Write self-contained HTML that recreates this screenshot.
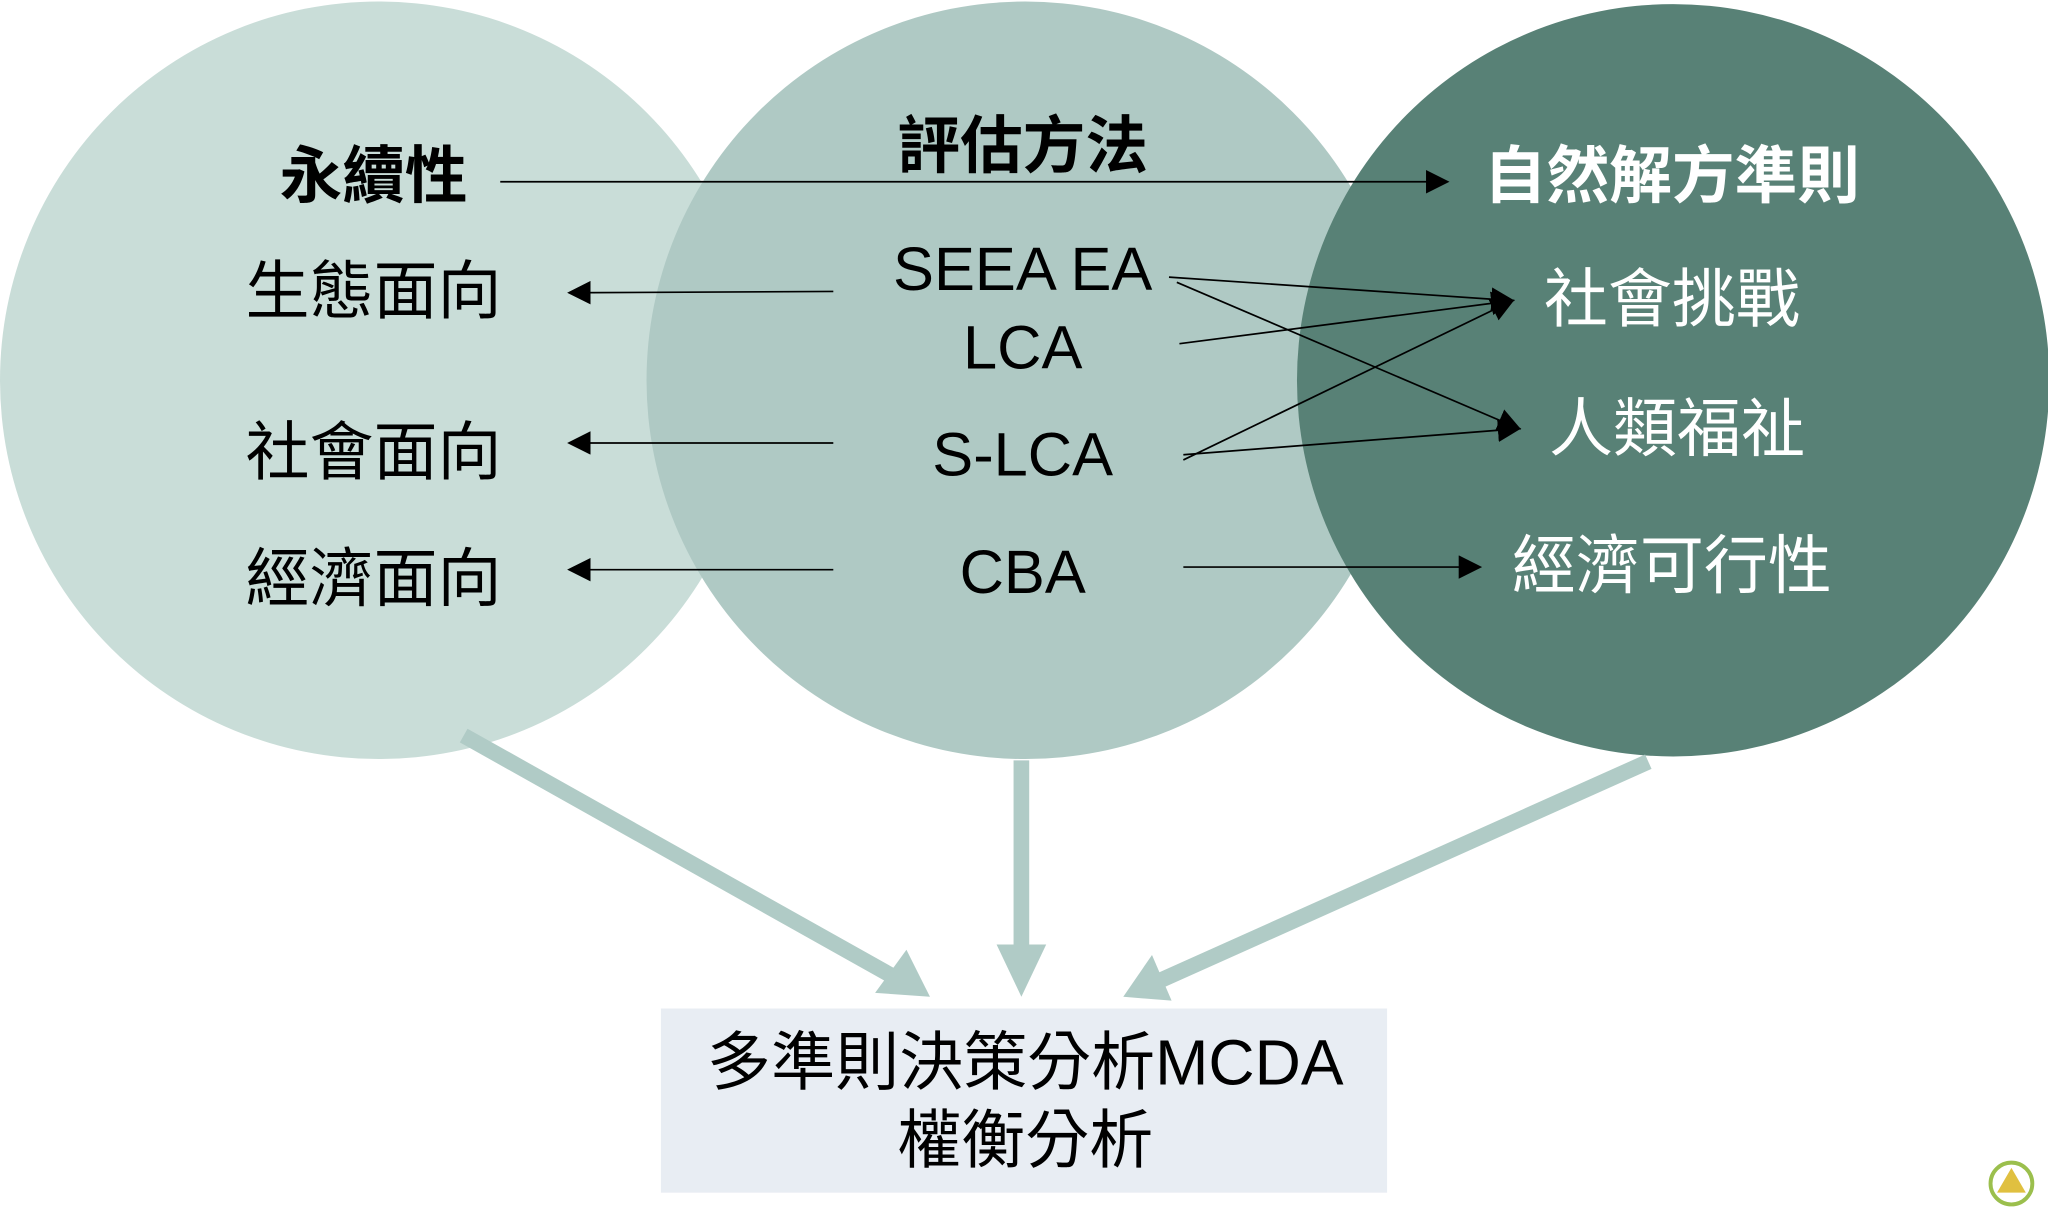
<!DOCTYPE html>
<html><head><meta charset="utf-8"><style>html,body{margin:0;padding:0;background:#fff}svg{display:block}</style></head>
<body>
<svg width="2048" height="1219" viewBox="0 0 1568 933" xmlns="http://www.w3.org/2000/svg" font-family="'Liberation Sans','Noto Sans CJK TC',sans-serif">
<defs>
<marker id="b" viewBox="0 0 10 10" refX="9" refY="5" markerWidth="18" markerHeight="18" markerUnits="userSpaceOnUse" orient="auto"><path d="M0,0L10,5L0,10z" fill="#000"/></marker>
</defs>
<rect width="1568" height="933" fill="#fff"/>
<circle cx="290" cy="291" r="290" fill="#c9ddd8"/>
<circle cx="785" cy="291" r="290" fill="#afc9c4"/>
<circle cx="1281" cy="291" r="288" fill="#588176"/>
<g font-weight="bold" font-size="48" text-anchor="middle">
<text x="286" y="151">永續性</text>
<text x="783" y="128">評估方法</text>
<text x="1280" y="151" fill="#fff">自然解方準則</text>
</g>
<g font-size="49" text-anchor="middle">
<text x="286" y="240">生態面向</text>
<text x="286" y="363">社會面向</text>
<text x="286" y="460">經濟面向</text>
<g font-size="47">
<text x="783" y="222">SEEA EA</text>
<text x="783" y="282">LCA</text>
<text x="783" y="364">S-LCA</text>
<text x="783" y="454">CBA</text>
</g>
<g fill="#fff"><text x="1280" y="246">社會挑戰</text>
<text x="1284" y="345">人類福祉</text>
<text x="1280" y="450">經濟可行性</text></g>
</g>
<g stroke="#000" stroke-width="1.3" fill="none">
<line x1="383" y1="139" x2="1108" y2="139" marker-end="url(#b)"/>
<line x1="638" y1="223" x2="436" y2="224" marker-end="url(#b)"/>
<line x1="638" y1="339" x2="436" y2="339" marker-end="url(#b)"/>
<line x1="638" y1="436" x2="436" y2="436" marker-end="url(#b)"/>
<line x1="895" y1="212" x2="1158" y2="230" marker-end="url(#b)"/>
<line x1="901" y1="216" x2="1163" y2="328" marker-end="url(#b)"/>
<line x1="903" y1="263" x2="1158" y2="230" marker-end="url(#b)"/>
<line x1="906" y1="352" x2="1158" y2="230" marker-end="url(#b)"/>
<line x1="906" y1="348" x2="1163" y2="328" marker-end="url(#b)"/>
<line x1="906" y1="434" x2="1133" y2="434" marker-end="url(#b)"/>
</g>
<g stroke="#b0cbc6" stroke-width="12" fill="#b0cbc6">
<line x1="355" y1="563" x2="690" y2="751"/>
<line x1="782" y1="582" x2="782" y2="735"/>
<line x1="1262" y1="583" x2="885" y2="752"/>
</g>
<g fill="#b0cbc6">
<path d="M712,763 L670,760 L694,727z"/>
<path d="M782,763 L763,723 L801,723z"/>
<path d="M860,763 L882,731 L897,766z"/>
</g>
<rect x="506" y="772" width="556" height="141" fill="#e8edf3"/>
<g font-size="49" text-anchor="middle">
<text x="785" y="830">多準則決策分析MCDA</text>
<text x="785" y="890">權衡分析</text>
</g>
<circle cx="1540" cy="906" r="16" fill="#fff" stroke="#9bbf4d" stroke-width="3"/>
<path d="M1540,894 L1551,913 L1529,913z" fill="#e0c040"/>
</svg>
</body></html>
